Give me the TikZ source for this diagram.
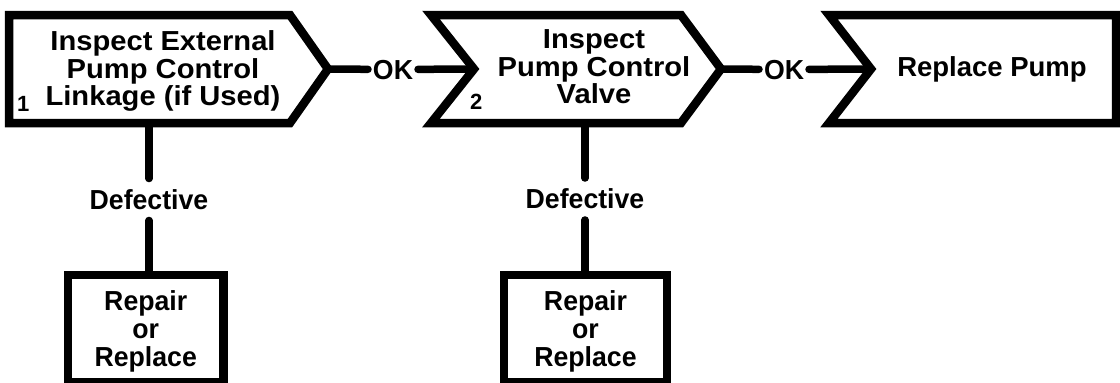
\documentclass[tikz,border=0pt]{standalone}
\usepackage{fontspec}
\setmainfont{Liberation Sans}
\newfontfamily\widefont{Liberation Sans}[FakeStretch=1.06]
\newfontfamily\narrowfont{Liberation Sans}[FakeStretch=0.97]
\begin{document}
\begin{tikzpicture}[x=1pt,y=-1pt,
  box/.style={draw=black, line width=8.5pt, line join=miter},
  conn/.style={draw=black, line width=7.5pt, line cap=round},
  txt/.style={font=\widefont\fontsize{27.5}{27.5}\selectfont\bfseries, inner sep=0pt, align=center, text depth=0pt},
  lab/.style={font=\narrowfont\fontsize{27.5}{27.5}\selectfont\bfseries, inner sep=0pt, text depth=0pt},
  num/.style={font=\fontsize{22}{22}\selectfont\bfseries, inner sep=0pt, anchor=base west},
  subbox/.style={draw=black, line width=8.5pt, minimum height=107pt, inner sep=0pt,
    font=\narrowfont\fontsize{27.5}{28}\selectfont\bfseries, align=center, text depth=0pt}]
\useasboundingbox (0,0) rectangle (1120,383);
% main chevron boxes
\draw[box] (9,15) -- (290,15) -- (328,69) -- (290,123) -- (9,123) -- cycle;
\draw[box] (431,15) -- (681,15) -- (721,69) -- (681,123) -- (431,123) -- (474,69) -- cycle;
\draw[box] (829,15) -- (1116,15) -- (1116,123) -- (829,123) -- (871,69) -- cycle;
\coordinate (tip1) at (328,69);
\coordinate (tip2) at (721,69);
\coordinate (notch2) at (474,69);
\coordinate (notch3) at (871,69);
\coordinate (bot1) at (149,123);
\coordinate (bot2) at (585,123);
% texts
\node[txt] (s1) at (163,68.5) {Inspect External\\Pump Control\\Linkage (if Used)};
\node[txt] (s2) at (594,67) {Inspect\\Pump Control\\Valve};
\node[txt, font=\fontsize{27.5}{27.5}\selectfont\bfseries] (s3) at (992,67) {Replace Pump};
\node[num] (n1) at (17,111) {1};
\node[num] (n2) at (470,109) {2};
\node[lab, outer xsep=5pt] (ok1) at (393,69.5) {OK};
\node[lab, outer xsep=5pt] (ok2) at (784,69.5) {OK};
\node[lab, outer ysep=11pt] (d1) at (149,199.5) {Defective};
\node[lab, outer ysep=11pt] (d2) at (585,199) {Defective};
\node[subbox, minimum width=155.5pt] (r1) at (145.75,328.5) {Repair\\or\\Replace};
\node[subbox, minimum width=163pt] (r2) at (585.5,328.5) {Repair\\or\\Replace};
% connectors
\draw[conn] (tip1) -- (ok1);
\draw[conn] (ok1) -- (notch2);
\draw[conn] (tip2) -- (ok2);
\draw[conn] (ok2) -- (notch3);
\draw[conn] (bot1) -- (d1);
\draw[conn] (d1) -- (d1 |- r1.north);
\draw[conn] (bot2) -- (d2);
\draw[conn] (d2) -- (d2 |- r2.north);
\end{tikzpicture}
\end{document}
